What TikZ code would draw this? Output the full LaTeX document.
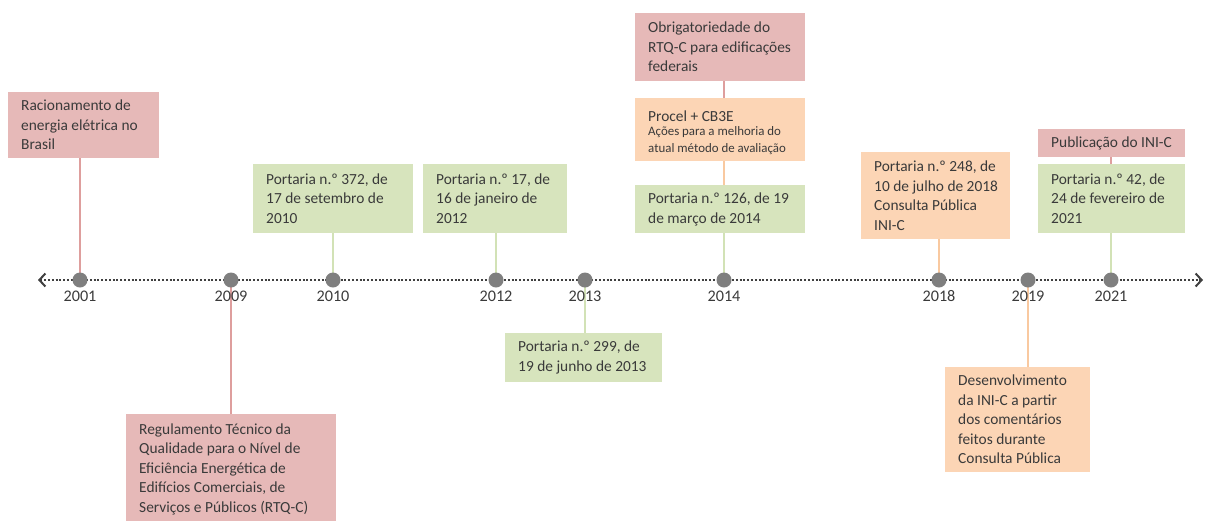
\documentclass[tikz,border=0pt]{standalone}
\usepackage{fontspec}
\setmainfont{Carlito}
\usetikzlibrary{arrows.meta}
\definecolor{pinkf}{HTML}{E6B9B8}
\definecolor{greenf}{HTML}{D7E4BD}
\definecolor{orangef}{HTML}{FCD5B5}
\definecolor{pinkl}{HTML}{DE9E9D}
\definecolor{greenl}{HTML}{D2E2B6}
\definecolor{orangel}{HTML}{F9C9A0}
\definecolor{txt}{HTML}{3A3A3A}
\definecolor{dotc}{HTML}{7F7F7F}
\definecolor{axisc}{HTML}{404040}
\newcommand\tbox[8][0]{%
  \node[boxs, fill=#7, minimum width=#5pt, minimum height=#6pt] (#2) at (#3,#4) {};
  \node[txts] (#2t) at ([xshift=13pt,yshift=#1pt]#2.west) {#8};}
\begin{document}
\begin{tikzpicture}[x=1pt,y=-1pt,
  boxs/.style={anchor=north west, draw=none, inner sep=0pt, rectangle},
  txts/.style={anchor=west, inner sep=0pt, align=left, text=txt, font=\fontsize{15.4}{19.5}\selectfont},
  yr/.style={text=txt, font=\fontsize{16.2}{18}\selectfont, inner sep=0pt, anchor=center},
  dotn/.style={circle, fill=dotc, minimum size=15pt, inner sep=0pt},
  conn/.style={line width=2pt},
  axisline/.style={line width=2pt, draw=axisc, dash pattern=on 2pt off 1.8pt,
    {Straight Barb[length=6pt,width=13pt,line width=2pt]}-{Straight Barb[length=6pt,width=13pt,line width=2pt]}}
]
\useasboundingbox (0,0) rectangle (1205,520);
% boxes
\tbox{r2001}{8}{92}{151}{66}{pinkf}{Racionamento de\\energia elétrica no\\Brasil}
\tbox{p372}{253}{164}{160}{69}{greenf}{Portaria n.º 372, de\\17 de setembro de\\2010}
\tbox{p17}{423}{164}{144}{69}{greenf}{Portaria n.º 17, de\\16 de janeiro de\\2012}
\tbox{obr}{635}{13}{170}{68}{pinkf}{Obrigatoriedade do\\RTQ-C para edificações\\federais}
\tbox[-3]{procel}{635}{98}{170}{63}{orangef}{Procel + CB3E\\[-5pt]{\fontsize{12.9}{16}\selectfont Ações para a melhoria do}\\[-3pt]{\fontsize{12.9}{16}\selectfont atual método de avaliação}}
\tbox{p126}{635}{185}{170}{48}{greenf}{Portaria n.º 126, de 19\\de março de 2014}
\tbox{p248}{861}{152}{149}{87}{orangef}{Portaria n.º 248, de\\10 de julho de 2018\\Consulta Pública\\INI-C}
\tbox{pub}{1038}{129}{147}{28}{pinkf}{Publicação do INI-C}
\tbox{p42}{1038}{164}{147}{69}{greenf}{Portaria n.º 42, de\\24 de fevereiro de\\2021}
\tbox{p299}{505}{333}{157}{49}{greenf}{Portaria n.º 299, de\\19 de junho de 2013}
\tbox{reg}{126}{414}{210}{110}{pinkf}{Regulamento Técnico da\\Qualidade para o Nível de\\Eficiência Energética de\\Edifícios Comerciais, de\\Serviços e Públicos (RTQ-C)}
\tbox{dev}{945}{367}{145}{105}{orangef}{Desenvolvimento\\da INI-C a partir\\dos comentários\\feitos durante\\Consulta Pública}
% axis
\coordinate (al) at (38,280);
\coordinate (ar) at (1203,280);
\draw[axisline] (al) -- (ar);
% year positions
\coordinate (y2001) at (80,280);
\coordinate (y2009) at (231,280);
\coordinate (y2010) at (333,280);
\coordinate (y2012) at (496,280);
\coordinate (y2013) at (585,280);
\coordinate (y2014) at (724,280);
\coordinate (y2018) at (939,280);
\coordinate (y2019) at (1028,280);
\coordinate (y2021) at (1111,280);
% connectors
\draw[conn,pinkl] (y2001) -- (y2001 |- r2001.south);
\draw[conn,pinkl] (y2009) -- (y2009 |- reg.north);
\draw[conn,greenl] (y2010) -- (y2010 |- p372.south);
\draw[conn,greenl] (y2012) -- (y2012 |- p17.south);
\draw[conn,greenl] (y2013) -- (y2013 |- p299.north);
\draw[conn,greenl] (y2014) -- (y2014 |- p126.south);
\draw[conn,orangel] (y2014 |- p126.north) -- (y2014 |- procel.south);
\draw[conn,pinkl] (y2014 |- procel.north) -- (y2014 |- obr.south);
\draw[conn,orangel] (y2018) -- (y2018 |- p248.south);
\draw[conn,orangel] (y2019) -- (y2019 |- dev.north);
\draw[conn,greenl] (y2021) -- (y2021 |- p42.south);
\draw[conn,pinkl] (y2021 |- p42.north) -- (y2021 |- pub.south);
% dots and years
\foreach \y in {2001,2009,2010,2012,2013,2014,2018,2019,2021}{
  \node[dotn] (d\y) at (y\y) {};
  \node[yr] (l\y) at ([yshift=-16pt]y\y) {\y};
}
\end{tikzpicture}
\end{document}
